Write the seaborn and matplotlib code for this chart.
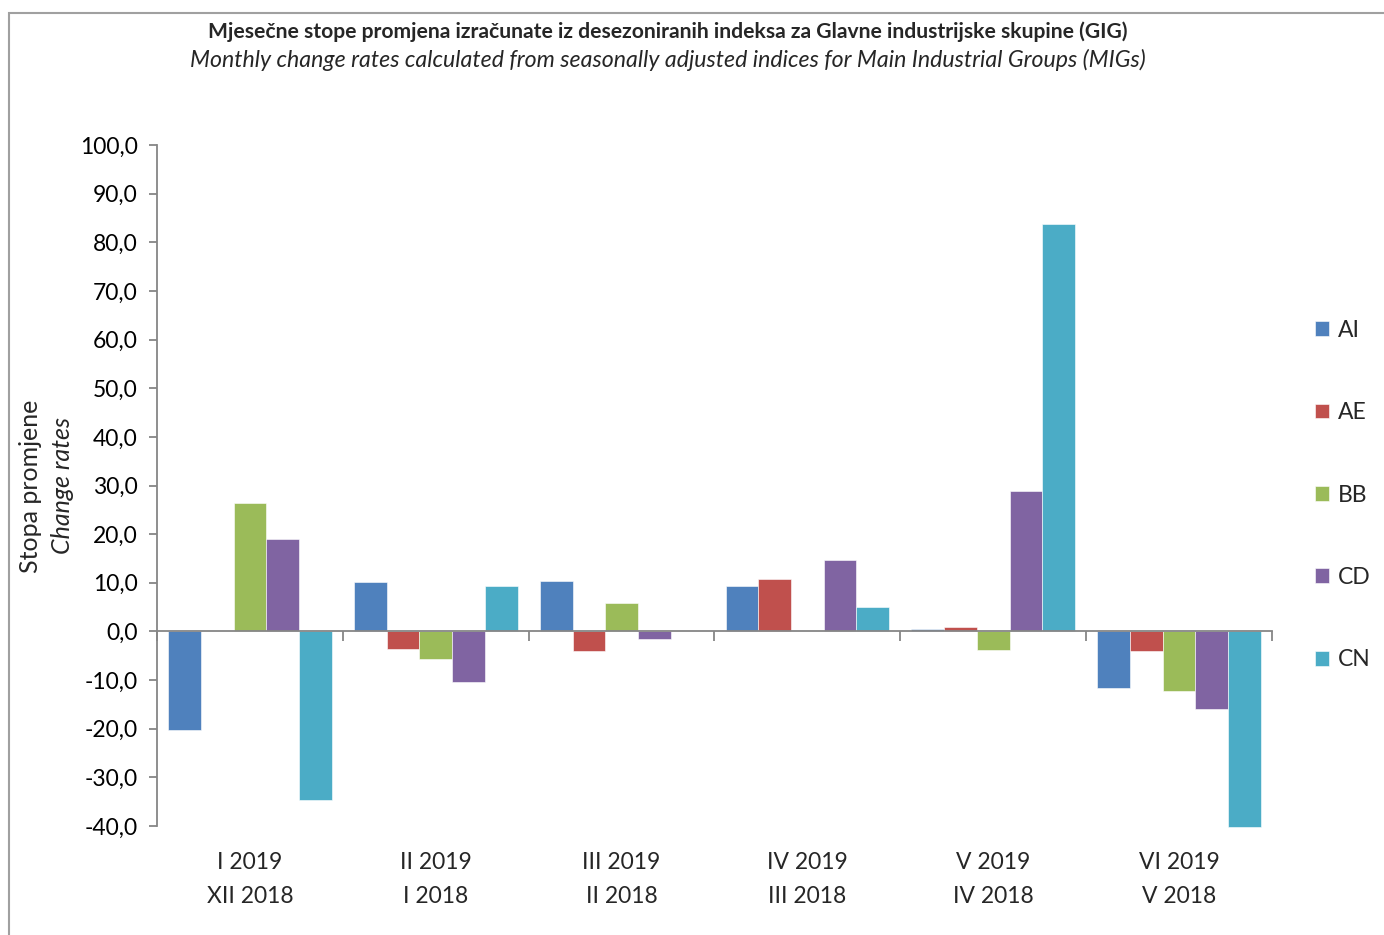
import matplotlib
matplotlib.use("Agg")
import matplotlib.pyplot as plt
import matplotlib.patches as mpatches
from matplotlib.ticker import FuncFormatter, FixedLocator
import seaborn as sns
import pandas as pd

periods = ["I 2019\nXII 2018", "II 2019\nI 2018", "III 2019\nII 2018",
           "IV 2019\nIII 2018", "V 2019\nIV 2018", "VI 2019\nV 2018"]
groups = ["AI", "AE", "BB", "CD", "CN"]
AI = [-20.2, 10.1, 10.3, 9.3, 0.4, -11.7]
AE = [0.0, -3.7, -4.1, 10.7, 1.0, -4.1]
BB = [26.5, -5.6, 5.8, 0.0, -3.9, -12.3]
CD = [19.1, -10.3, -1.6, 14.6, 28.8, -16.0]
CN = [-34.6, 9.3, 0.0, 5.1, 83.7, -40.3]
colors = ["#4F81BD", "#C0504D", "#9BBB59", "#8064A2", "#4BACC6"]
yticks = [-40, -30, -20, -10, 0, 10, 20, 30, 40, 50, 60, 70, 80, 90, 100]

series = {"AI": AI, "AE": AE, "BB": BB, "CD": CD, "CN": CN}
rows = []
for g in groups:
    for p, v in zip(periods, series[g]):
        rows.append({"period": p, "group": g, "value": v})
df = pd.DataFrame(rows)

sns.set_style("white")
plt.rcParams["font.family"] = ["Lato", "DejaVu Sans"]
gray = "#868686"
fs = 16.5

fig = plt.figure(figsize=(13.84, 9.35), dpi=100)
ax = fig.add_axes([157/1384, 1-826/935, (1272-157)/1384, (826-145)/935])

sns.barplot(data=df, x="period", y="value", hue="group", order=periods,
            hue_order=groups, palette=colors, width=0.88, errorbar=None,
            edgecolor="white", linewidth=0.4, saturation=1, ax=ax)
for patch in ax.patches:
    patch.set_clip_on(False)

ax.set_ylim(-40, 100)
ax.set_xlim(-0.5, len(periods) - 0.5)
ax.yaxis.set_major_locator(FixedLocator(yticks))
ax.yaxis.set_major_formatter(FuncFormatter(lambda v, p: f"{v:.1f}".replace(".", ",")))
ax.tick_params(axis="y", which="major", left=True, length=6, width=1.3,
               color=gray, labelsize=fs, pad=8, labelcolor="black")

for s in ["top", "right"]:
    ax.spines[s].set_visible(False)
ax.spines["left"].set_color(gray)
ax.spines["left"].set_linewidth(1.3)
ax.spines["bottom"].set_position(("data", 0))
ax.spines["bottom"].set_color(gray)
ax.spines["bottom"].set_linewidth(1.3)
ax.set_xticks([i - 0.5 for i in range(len(periods) + 1)])
ax.set_xticklabels([])
ax.tick_params(axis="x", which="major", bottom=True, length=7, width=1.3,
               color=gray, direction="out")
ax.set_xlabel("")
ax.set_ylabel("")

sec = ax.secondary_xaxis("bottom")
sec.set_xticks(range(len(periods)))
sec.set_xticklabels(periods, fontsize=fs, linespacing=1.75)
sec.tick_params(length=0, pad=19)
sec.spines["bottom"].set_visible(False)

# Y labels
fig.text(31/1384, 1-486/935, "Stopa promjene", rotation=90, ha="center",
         va="center", fontsize=18)
fig.text(63/1384, 1-486/935, "Change rates", rotation=90, ha="center",
         va="center", fontsize=18, style="italic")

# Titles
fig.text(668/1384, 1-32/935,
         "Mjesečne stope promjena izračunate iz desezoniranih indeksa za Glavne industrijske skupine (GIG)",
         ha="center", va="center", fontsize=15.2, fontweight="bold")
fig.text(668/1384, 1-60/935,
         "Monthly change rates calculated from seasonally adjusted indices for Main Industrial Groups (MIGs)",
         ha="center", va="center", fontsize=16.7, style="italic")

# Legend
handles, labels = ax.get_legend_handles_labels()
leg = ax.legend(handles, labels, loc="center left", bbox_to_anchor=(1.02, 0.486),
                frameon=False, fontsize=fs, labelspacing=2.68, handlelength=0.62,
                handleheight=0.62, handletextpad=0.4)

# Outer frame
fig.add_artist(mpatches.Rectangle((9/1384, -0.1), 1.2, 1.1 - 13/935,
                                  transform=fig.transFigure, fill=False,
                                  edgecolor="#A0A0A0", linewidth=1.5))

fig.savefig("out.png", dpi=100)
